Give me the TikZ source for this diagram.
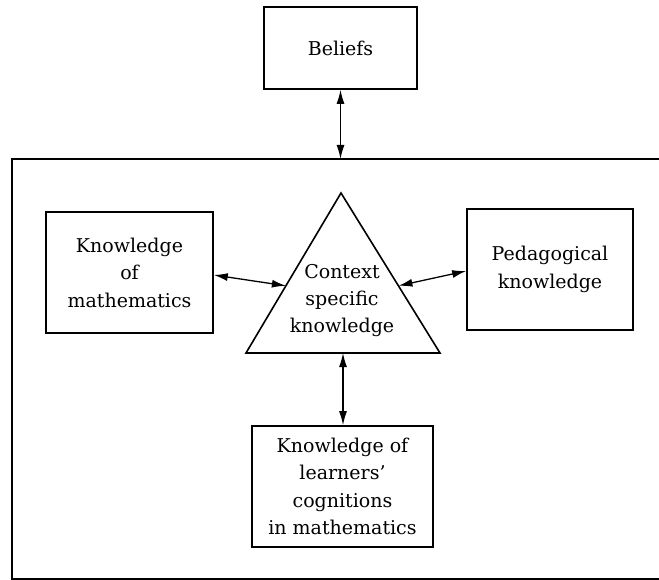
\documentclass[tikz,border=0pt]{standalone}
\usepackage{fontspec}
\setmainfont{DejaVu Serif}
\usetikzlibrary{arrows.meta,calc}
\begin{document}
\begin{tikzpicture}[x=1pt,y=-1pt,
  box/.style={draw,line width=1.6pt,align=center,inner sep=0pt,font=\fontsize{19}{27.5}\selectfont},
  lbl/.style={align=center,inner sep=0pt,font=\fontsize{19}{27}\selectfont},
  link/.style={line width=1.3pt,{Latex[length=14pt,width=8pt]}-{Latex[length=14pt,width=8pt]}},
  frame/.style={line width=1.7pt}]
\useasboundingbox (0,0) rectangle (659,580);
% outer frame
\coordinate (fTR) at (659,159);
\coordinate (fTL) at (12,159);
\coordinate (fBL) at (12,579);
\coordinate (fBR) at (659,579);
\draw[frame] (fTR) -- (fTL) -- (fBL) -- (fBR);
% boxes
\node[box,minimum width=153pt,minimum height=82pt] (bel) at (340.5,48) {Beliefs};
\node[box,minimum width=167pt,minimum height=121pt] (km) at (129.5,272.5) {Knowledge\\of\\mathematics};
\node[box,minimum width=166pt,minimum height=121pt] (pk) at (550,269.5) {Pedagogical\\knowledge};
\node[box,minimum width=181pt,minimum height=121pt] (lc) at (342.5,486.5) {Knowledge of\\learners'\\cognitions\\in mathematics};
% triangle
\coordinate (tA) at (341,193);
\coordinate (tL) at (246,353);
\coordinate (tR) at (440,353);
\draw[line width=1.6pt,line join=miter] (tA) -- (tL) -- (tR) -- cycle;
\node[lbl] (csk) at (342,301) {Context\\specific\\knowledge};
\coordinate (tLs) at ($(tA)!0.58!(tL)$);
\coordinate (tRs) at ($(tA)!0.58!(tR)$);
\coordinate (tB) at ($(tL)!0.5!(tR)$);
\coordinate (ftop) at (bel.south |- fTL);
% connectors
\draw[link] (bel.south) -- (ftop);
\draw[link] ([yshift=-2.5pt]km.east) -- (tLs);
\draw[link] (tRs) -- ([yshift=-1.5pt]pk.west);
\draw[link] (tB) -- (tB |- lc.north);
\end{tikzpicture}
\end{document}
